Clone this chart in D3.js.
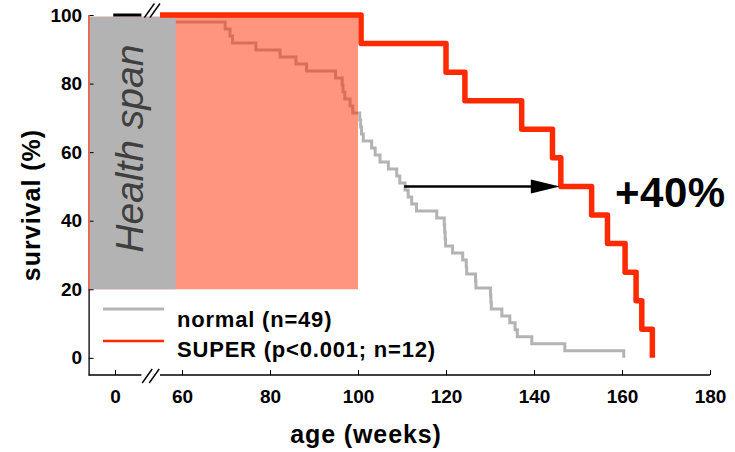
<!DOCTYPE html>
<html>
<head>
<meta charset="utf-8">
<script src="https://cdn.jsdelivr.net/npm/d3@7/dist/d3.min.js"></script>
<style>
  html, body { margin: 0; padding: 0; background: #fff; }
  svg { display: block; font-family: "Liberation Sans", Arial, Helvetica, sans-serif; }
</style>
</head>
<body>
<svg id="chart" width="735" height="452"></svg>
<script>
// Kaplan-Meier survival: ages (weeks) at which each animal died
const normalN = 49;
const normalDeaths = [40, 69.8, 70.9, 71.5, 76.8, 82.3, 85.9, 88.3, 94.9, 96.4,
  96.6, 97.0, 98.2, 98.8, 100.4, 100.6, 100.8, 101.2, 103.1, 103.9,
  105.0, 106.9, 108.8, 109.5, 110.7, 111.4, 112.2, 113.3, 117.9, 119.6,
  119.7, 119.8, 119.9, 121.5, 123.8, 124.6, 124.7, 126.7, 126.8, 130.1,
  130.2, 130.3, 132.7, 134.5, 135.7, 136.2, 139.5, 147.0, 160.4];
const superN = 12;
const superDeaths = [100.7, 120.0, 124.3, 137.2, 144.2, 146.1, 153.1, 156.7, 160.7, 163.2, 164.5, 166.9];

const xTicks = [0, 60, 80, 100, 120, 140, 160, 180];
const yTicks = [0, 20, 40, 60, 80, 100];

// broken age axis: a short stretch around 0, then 55..180
const leftPiece = [-6, 6];
const rightPiece = [55, 180];

// shaded spans (weeks, survival %)
const lifespanBox = { x0: -6, x1: 100, y0: 20, y1: 99.5 };
const healthBox = { x0: -6, x1: 58.6, y0: 20, y1: 99.5 };

// median-survival shift
const medianLevel = 50;
const medianNormal = 110.5;
const medianSuper = 146.1;
const gainLabel = "+40%";

const legendItems = [
  { label: "normal (n=49)", color: "#b3b3b3", width: 3 },
  { label: "SUPER (p<0.001; n=12)", color: "#ff2a00", width: 2.5 }
];

const RED = "#ff2a00";
const GREY = "#b3b3b3";

const svg = d3.select("#chart");

const x = d3.scaleLinear()
  .domain([leftPiece[0], leftPiece[1], rightPiece[0], rightPiece[1]])
  .range([88.6, 141.4, 160, 710]);
const y = d3.scaleLinear().domain([-5, 100]).range([375, 15]);

function kmPoints(deaths, n, start) {
  let alive = n - deaths.filter(d => d <= start).length;
  const pts = [{ age: start, s: 100 * alive / n }];
  deaths.filter(d => d > start).forEach(d => {
    alive -= 1;
    pts.push({ age: d, s: 100 * alive / n });
  });
  return pts;
}

const step = d3.line().x(d => x(d.age)).y(d => y(d.s)).curve(d3.curveStepAfter);

// normal curve (under the translucent lifespan shading)
svg.append("path")
  .attr("d", step(kmPoints(normalDeaths, normalN, rightPiece[0])))
  .attr("fill", "none").attr("stroke", GREY).attr("stroke-width", 3);

// lifespan shading
svg.append("rect")
  .attr("x", x(lifespanBox.x0)).attr("y", y(lifespanBox.y1))
  .attr("width", x(lifespanBox.x1) - x(lifespanBox.x0))
  .attr("height", y(lifespanBox.y0) - y(lifespanBox.y1))
  .attr("fill", RED).attr("fill-opacity", 0.5);

// health span box
svg.append("rect")
  .attr("x", x(healthBox.x0) + 1.5).attr("y", y(healthBox.y1))
  .attr("width", x(healthBox.x1) - x(healthBox.x0) - 1.5)
  .attr("height", y(healthBox.y0) - y(healthBox.y1))
  .attr("fill", GREY);

svg.append("text")
  .attr("transform", `translate(${(x(healthBox.x0) + x(healthBox.x1)) / 2 + 11},${y(61)}) rotate(-90)`)
  .attr("text-anchor", "middle")
  .attr("font-style", "italic")
  .attr("font-size", 39)
  .attr("fill", "#3f3f3f")
  .text("Health span");

// axes
const gx = svg.append("g").attr("transform", `translate(0,${y(-5)})`)
  .call(d3.axisBottom(x).tickValues(xTicks).tickSizeInner(-5).tickSizeOuter(0).tickPadding(14.5));
gx.select(".domain").remove();
gx.selectAll("text").attr("font-size", 19).attr("font-weight", "bold").attr("fill", "#000");

[leftPiece, rightPiece].forEach(p => {
  gx.append("line").attr("x1", x(p[0])).attr("x2", x(p[1]))
    .attr("y1", 0).attr("y2", 0).attr("stroke", "#000").attr("stroke-width", 1.3);
});

const gy = svg.append("g").attr("transform", `translate(${x(leftPiece[0])},0)`)
  .call(d3.axisLeft(y).tickValues(yTicks).tickSizeInner(-5).tickSizeOuter(0).tickPadding(6.5));
gy.select(".domain").attr("stroke-width", 1.3);
gy.selectAll("text").attr("font-size", 19).attr("font-weight", "bold").attr("fill", "#000");

// red edge of the lifespan shading along the axis
svg.append("line")
  .attr("x1", x(lifespanBox.x0) + 0.5).attr("x2", x(lifespanBox.x0) + 0.5)
  .attr("y1", y(lifespanBox.y1) - 1.5).attr("y2", y(lifespanBox.y0))
  .attr("stroke", "#ff7560").attr("stroke-width", 1.6);

// axis break marks
function breakMarks(cx, cy, dx) {
  [-dx, dx].forEach(o => {
    svg.append("line")
      .attr("x1", cx + o - 5).attr("y1", cy + 7)
      .attr("x2", cx + o + 5).attr("y2", cy - 7)
      .attr("stroke", "#000").attr("stroke-width", 1.4);
  });
}
const breakX = (x(leftPiece[1]) + x(rightPiece[0])) / 2;
breakMarks(breakX + 1.5, y(100) - 4.5, 2.8);
breakMarks(breakX, y(-5) + 1, 3.5);

// both groups at 100% before the break
svg.append("line")
  .attr("x1", x(-0.4)).attr("x2", x(leftPiece[1]))
  .attr("y1", y(100)).attr("y2", y(100))
  .attr("stroke", "#000").attr("stroke-width", 3);

// SUPER curve
svg.append("path")
  .attr("d", step(kmPoints(superDeaths, superN, rightPiece[0])))
  .attr("fill", "none").attr("stroke", RED).attr("stroke-width", 5.5)
  .attr("stroke-linejoin", "round");

// median shift arrow
const headLen = 30;
svg.append("line")
  .attr("x1", x(medianNormal)).attr("x2", x(medianSuper) - headLen + 2)
  .attr("y1", y(medianLevel)).attr("y2", y(medianLevel))
  .attr("stroke", "#000").attr("stroke-width", 2.5);
svg.append("path")
  .attr("d", `M${x(medianSuper) - 1},${y(medianLevel)} L${x(medianSuper) - headLen},${y(medianLevel) - 7} L${x(medianSuper) - headLen},${y(medianLevel) + 7} Z`)
  .attr("fill", "#000");

svg.append("text")
  .attr("x", 615).attr("y", 207)
  .attr("font-size", 42).attr("font-weight", "bold")
  .attr("letter-spacing", 0.5)
  .text(gainLabel);

// axis titles
svg.append("text")
  .attr("x", 366).attr("y", 443)
  .attr("text-anchor", "middle").attr("font-size", 25).attr("font-weight", "bold")
  .attr("letter-spacing", 0.9)
  .text("age (weeks)");
svg.append("text")
  .attr("transform", "translate(40,205) rotate(-90)")
  .attr("text-anchor", "middle").attr("font-size", 25).attr("font-weight", "bold")
  .attr("letter-spacing", 1)
  .text("survival (%)");

// legend
const lg = svg.append("g");
legendItems.forEach((d, i) => {
  lg.append("line")
    .attr("x1", 103).attr("x2", 164)
    .attr("y1", 309 + i * 32).attr("y2", 309 + i * 32)
    .attr("stroke", d.color).attr("stroke-width", d.width);
  lg.append("text")
    .attr("x", 177).attr("y", 327 + i * 30)
    .attr("font-size", 22).attr("font-weight", "bold")
    .attr("letter-spacing", 0.8)
    .text(d.label);
});
</script>
</body>
</html>
